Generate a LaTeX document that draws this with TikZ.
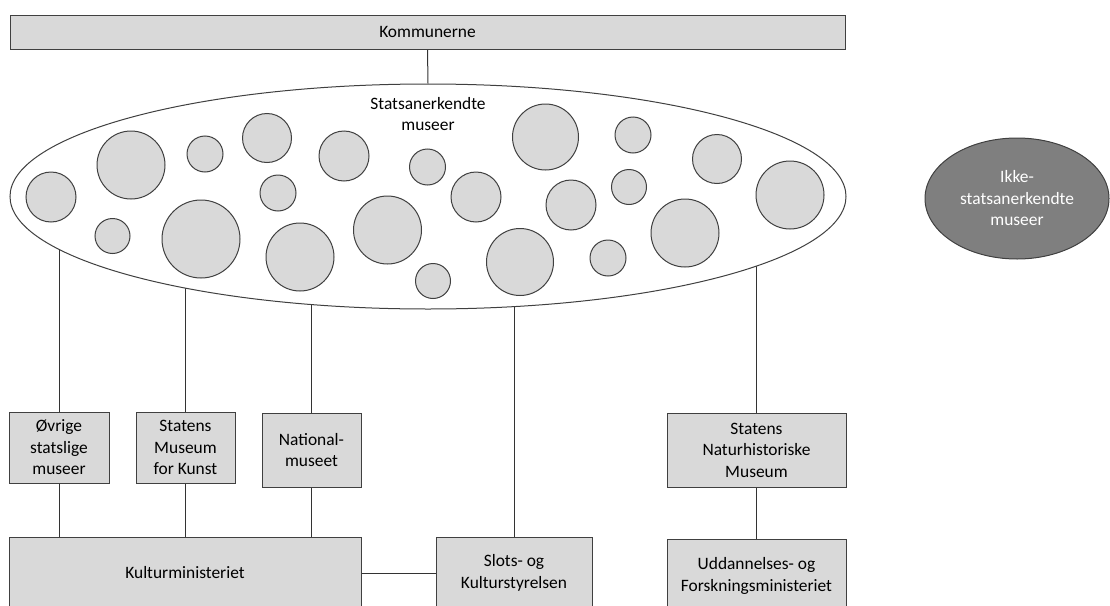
\documentclass[tikz,border=0pt]{standalone}
\usepackage{fontspec}
\setmainfont{Carlito}
\usetikzlibrary{shapes.geometric,backgrounds}
\definecolor{boxfill}{HTML}{D9D9D9}
\definecolor{edgecol}{HTML}{404040}
\definecolor{darkfill}{HTML}{7F7F7F}
\newcommand{\diafont}{\fontsize{17.4}{21.5}\selectfont}
\tikzset{
  orgbox/.style={draw=edgecol, fill=boxfill, line width=1pt, inner sep=0pt, align=center, font=\diafont},
  bubble/.style={circle, draw=edgecol, fill=boxfill, line width=1pt, inner sep=0pt},
  conn/.style={draw=black!80, line width=1pt},
}
\begin{document}
\begin{tikzpicture}[x=1pt,y=-1pt]
\useasboundingbox (0,0) rectangle (1110,605);
\clip (0,0) rectangle (1110,605);
% top bar
\node[orgbox, minimum width=835, minimum height=34] (kom) at (427.5,32) {Kommunerne};
% big ellipse
\node[ellipse, draw=edgecol, fill=white, line width=1pt, minimum width=836, minimum height=225, inner sep=0pt] (big) at (428,196.5) {};
\node[align=center, font=\diafont, inner sep=0pt] (biglabel) at (428,114) {Statsanerkendte\\museer};
% bubbles
\foreach \n/\cx/\cy/\r in {
  b1/51/197/25, b2/131/165/34, b3/205/154/18, b4/267/138/24.5, b5/344/156/25,
  b6/427.5/167/18, b7/476/197/25, b8/545.5/137/33, b9/387.5/230/34, b10/278/193/18,
  b11/112.5/236/17.5, b12/201/239/39, b13/300/257/34, b14/433/281/17.5, b15/520/262/33.5,
  b16/571/205/25, b17/633/135/18, b18/717/159/24.5, b19/629/187/17.5, b20/790/195/34,
  b21/685/233/34, b22/608/258/18}
  \node[bubble, minimum size=2*\r] (\n) at (\cx,\cy) {};
% non-recognised museums
\node[ellipse, draw=edgecol, fill=darkfill, line width=1pt, minimum width=184, minimum height=121, inner sep=0pt, align=center, font=\diafont, text=white] (ikke) at (1017,198.5) {Ikke-\\statsanerkendte\\museer};
% institution boxes
\node[orgbox, minimum width=100, minimum height=71] (ovr) at (59,447.5) {Øvrige\\statslige\\museer};
\node[orgbox, minimum width=99, minimum height=71] (smk) at (185.5,447.5) {Statens\\Museum\\for Kunst};
\node[orgbox, minimum width=99, minimum height=74] (nat) at (311.5,450) {National-\\museet};
\node[orgbox, minimum width=179, minimum height=74] (snm) at (756.5,450) {Statens\\Naturhistoriske\\Museum};
\node[orgbox, minimum width=352, minimum height=72] (kum) at (185,573) {Kulturministeriet};
\node[orgbox, minimum width=156, minimum height=72] (slk) at (514,573) {Slots- og\\Kulturstyrelsen};
\node[orgbox, minimum width=179, minimum height=74] (ufm) at (756.5,576) {Uddannelses- og\\Forskningsministeriet};
% connectors
\begin{scope}[on background layer]
  \draw[conn] (kom.south) -- (big.north);
  \draw[conn] (ovr.north) -- (ovr.north |- big.center);
  \draw[conn] (smk.north) -- (smk.north |- big.center);
  \draw[conn] (nat.north) -- (nat.north |- big.center);
  \draw[conn] (slk.north) -- (slk.north |- big.center);
  \draw[conn] (snm.north) -- (snm.north |- big.center);
  \draw[conn] (ovr.south) -- (ovr.south |- kum.north);
  \draw[conn] (smk.south) -- (smk.south |- kum.north);
  \draw[conn] (nat.south) -- (nat.south |- kum.north);
  \draw[conn] (snm.south) -- (ufm.north);
  \draw[conn] (kum.east) -- (slk.west);
\end{scope}
\end{tikzpicture}
\end{document}
